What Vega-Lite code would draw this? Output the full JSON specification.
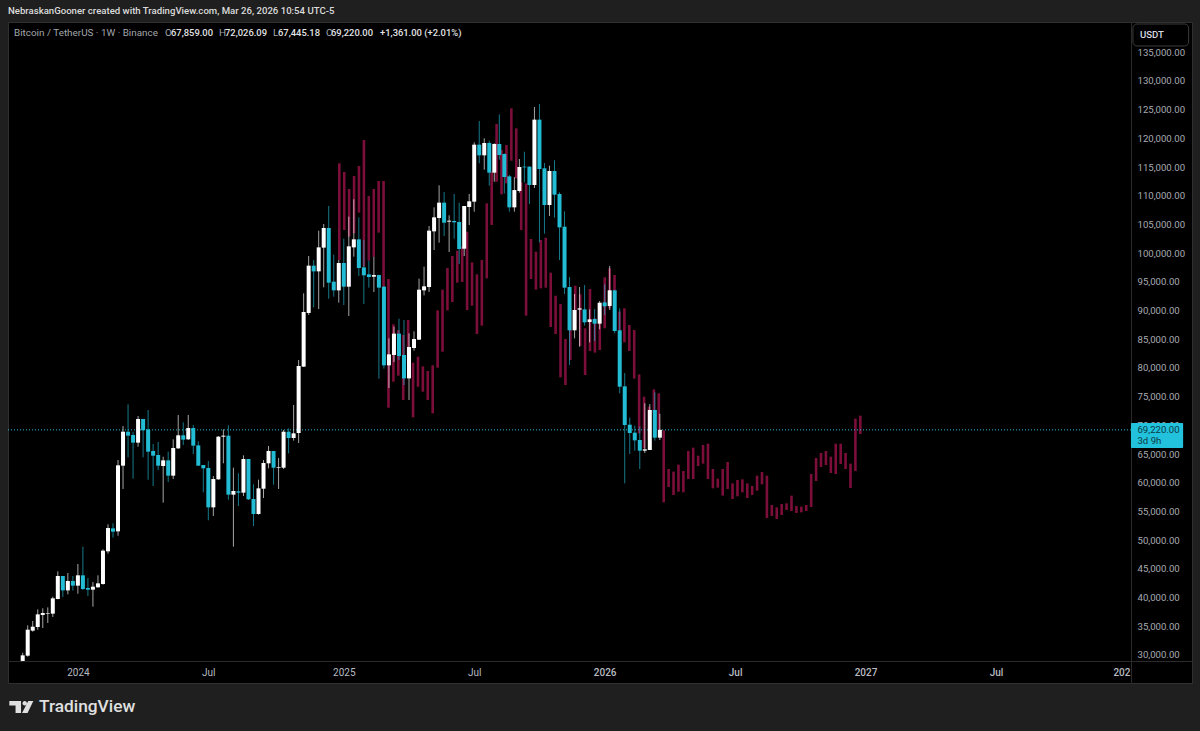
{
  "$schema": "https://vega.github.io/schema/vega-lite/v6.json",
  "description": "Bitcoin / TetherUS weekly candles with a projected bars pattern",
  "title": {"text": "NebraskanGooner created with TradingView.com, Mar 26, 2026 10:54 UTC-5", "anchor": "start", "frame": "group", "font": "Roboto", "fontSize": 9.6, "fontWeight": 500, "color": "#dcdcdc", "offset": 6},
  "autosize": {"type": "none"},
  "width": 1184,
  "height": 661,
  "padding": {"left": 8, "top": 22, "right": 8, "bottom": 48},
  "background": "#1f1f1f",
  "view": {"fill": "#000000", "stroke": "#303030"},
  "config": {"axis": {"labelOverlap": false, "labelSeparation": 0}},
  "datasets": {
    "candles": [
      {"week":0,"open":28960,"high":30400,"low":28960,"close":29940,"dir":"up"},
      {"week":1,"open":29880,"high":35170,"low":29710,"close":34410,"dir":"up"},
      {"week":2,"open":34240,"high":35920,"low":34060,"close":34930,"dir":"up"},
      {"week":3,"open":34880,"high":37950,"low":34410,"close":37080,"dir":"up"},
      {"week":4,"open":36970,"high":38130,"low":34700,"close":37310,"dir":"up"},
      {"week":5,"open":37200,"high":38300,"low":35570,"close":37310,"dir":"up"},
      {"week":6,"open":37200,"high":40160,"low":36620,"close":39870,"dir":"up"},
      {"week":7,"open":39750,"high":44570,"low":39700,"close":43760,"dir":"up"},
      {"week":8,"open":43760,"high":43760,"low":40100,"close":41260,"dir":"down"},
      {"week":9,"open":41260,"high":44280,"low":40570,"close":42890,"dir":"up"},
      {"week":10,"open":42890,"high":43760,"low":41210,"close":42080,"dir":"down"},
      {"week":11,"open":42080,"high":45850,"low":40680,"close":43880,"dir":"up"},
      {"week":12,"open":43880,"high":48870,"low":41320,"close":41500,"dir":"down"},
      {"week":13,"open":41670,"high":43410,"low":40280,"close":41380,"dir":"down"},
      {"week":14,"open":41380,"high":42710,"low":38420,"close":41900,"dir":"up"},
      {"week":15,"open":41790,"high":43880,"low":41730,"close":42480,"dir":"up"},
      {"week":16,"open":42370,"high":48410,"low":42250,"close":48170,"dir":"up"},
      {"week":17,"open":48060,"high":52760,"low":47650,"close":52120,"dir":"up"},
      {"week":18,"open":52060,"high":52940,"low":50440,"close":51480,"dir":"down"},
      {"week":19,"open":51540,"high":63970,"low":50790,"close":63040,"dir":"up"},
      {"week":20,"open":62980,"high":69890,"low":58920,"close":68900,"dir":"up"},
      {"week":21,"open":68900,"high":73670,"low":64430,"close":68210,"dir":"down"},
      {"week":22,"open":68320,"high":68900,"low":60720,"close":66990,"dir":"down"},
      {"week":23,"open":66990,"high":71630,"low":66290,"close":71110,"dir":"up"},
      {"week":24,"open":71110,"high":71110,"low":64430,"close":69140,"dir":"down"},
      {"week":25,"open":69310,"high":72680,"low":60540,"close":65420,"dir":"down"},
      {"week":26,"open":65540,"high":66760,"low":59440,"close":64720,"dir":"down"},
      {"week":27,"open":64840,"high":67100,"low":62230,"close":62980,"dir":"down"},
      {"week":28,"open":62920,"high":64550,"low":56540,"close":63910,"dir":"up"},
      {"week":29,"open":63910,"high":65420,"low":60140,"close":61240,"dir":"down"},
      {"week":30,"open":61240,"high":67570,"low":60660,"close":66060,"dir":"up"},
      {"week":31,"open":66000,"high":71810,"low":65890,"close":68270,"dir":"up"},
      {"week":32,"open":68270,"high":70530,"low":66580,"close":67510,"dir":"down"},
      {"week":33,"open":67570,"high":71810,"low":67450,"close":69540,"dir":"up"},
      {"week":34,"open":69540,"high":70070,"low":65010,"close":66470,"dir":"down"},
      {"week":35,"open":66520,"high":67220,"low":62920,"close":62980,"dir":"down"},
      {"week":36,"open":63100,"high":63100,"low":58340,"close":62520,"dir":"down"},
      {"week":37,"open":62580,"high":63790,"low":53460,"close":55720,"dir":"down"},
      {"week":38,"open":55720,"high":61180,"low":54210,"close":60660,"dir":"up"},
      {"week":39,"open":60600,"high":68150,"low":60540,"close":68030,"dir":"up"},
      {"week":40,"open":68030,"high":69310,"low":63390,"close":68210,"dir":"up"},
      {"week":41,"open":68210,"high":70010,"low":57060,"close":57930,"dir":"down"},
      {"week":42,"open":57930,"high":62630,"low":48870,"close":58570,"dir":"up"},
      {"week":43,"open":58510,"high":61650,"low":55960,"close":58280,"dir":"down"},
      {"week":44,"open":58280,"high":64780,"low":57700,"close":64140,"dir":"up"},
      {"week":45,"open":64140,"high":64140,"low":57000,"close":57120,"dir":"down"},
      {"week":46,"open":57170,"high":59730,"low":52470,"close":54560,"dir":"down"},
      {"week":47,"open":54560,"high":60540,"low":54450,"close":59030,"dir":"up"},
      {"week":48,"open":58970,"high":63970,"low":57350,"close":63450,"dir":"up"},
      {"week":49,"open":63390,"high":66410,"low":62520,"close":65540,"dir":"up"},
      {"week":50,"open":65540,"high":65540,"low":59670,"close":62630,"dir":"down"},
      {"week":51,"open":62630,"high":64320,"low":58920,"close":62750,"dir":"up"},
      {"week":52,"open":62630,"high":69200,"low":62400,"close":68900,"dir":"up"},
      {"week":53,"open":68900,"high":69490,"low":65130,"close":67800,"dir":"down"},
      {"week":54,"open":67800,"high":73550,"low":67340,"close":68610,"dir":"up"},
      {"week":55,"open":68670,"high":81390,"low":66930,"close":80340,"dir":"up"},
      {"week":56,"open":80230,"high":93000,"low":80170,"close":89750,"dir":"up"},
      {"week":57,"open":89580,"high":99500,"low":89230,"close":97820,"dir":"up"},
      {"week":58,"open":97820,"high":98810,"low":90560,"close":96830,"dir":"down"},
      {"week":59,"open":96830,"high":103920,"low":90270,"close":101010,"dir":"up"},
      {"week":60,"open":100960,"high":105080,"low":94050,"close":104380,"dir":"up"},
      {"week":61,"open":104380,"high":108220,"low":92070,"close":94860,"dir":"down"},
      {"week":62,"open":95030,"high":99740,"low":92420,"close":93520,"dir":"down"},
      {"week":63,"open":93520,"high":98810,"low":91380,"close":98290,"dir":"up"},
      {"week":64,"open":98290,"high":102520,"low":90970,"close":94160,"dir":"down"},
      {"week":65,"open":94160,"high":106360,"low":89050,"close":101190,"dir":"up"},
      {"week":66,"open":101010,"high":109380,"low":99390,"close":102410,"dir":"up"},
      {"week":67,"open":102410,"high":106240,"low":96020,"close":97410,"dir":"down"},
      {"week":68,"open":97530,"high":102290,"low":91140,"close":96140,"dir":"down"},
      {"week":69,"open":96310,"high":98690,"low":93990,"close":95850,"dir":"down"},
      {"week":70,"open":95900,"high":99390,"low":93230,"close":96190,"dir":"up"},
      {"week":71,"open":96190,"high":96250,"low":78140,"close":93990,"dir":"down"},
      {"week":72,"open":94160,"high":94280,"low":79880,"close":80460,"dir":"down"},
      {"week":73,"open":80460,"high":85160,"low":76510,"close":82370,"dir":"up"},
      {"week":74,"open":82260,"high":87190,"low":81040,"close":85980,"dir":"up"},
      {"week":75,"open":85980,"high":88590,"low":81390,"close":82080,"dir":"down"},
      {"week":76,"open":82260,"high":88360,"low":77030,"close":78190,"dir":"down"},
      {"week":77,"open":78190,"high":86030,"low":74420,"close":83650,"dir":"up"},
      {"week":78,"open":83480,"high":86380,"low":83010,"close":85050,"dir":"up"},
      {"week":79,"open":84930,"high":95560,"low":84870,"close":93640,"dir":"up"},
      {"week":80,"open":93520,"high":97650,"low":92650,"close":94220,"dir":"up"},
      {"week":81,"open":94100,"high":104730,"low":93230,"close":103920,"dir":"up"},
      {"week":82,"open":103800,"high":107980,"low":100550,"close":106240,"dir":"up"},
      {"week":83,"open":106130,"high":111820,"low":101830,"close":108800,"dir":"up"},
      {"week":84,"open":108800,"high":110650,"low":102990,"close":105310,"dir":"down"},
      {"week":85,"open":105490,"high":106590,"low":100200,"close":105660,"dir":"up"},
      {"week":86,"open":105600,"high":110310,"low":102520,"close":105370,"dir":"down"},
      {"week":87,"open":105430,"high":108800,"low":98110,"close":100720,"dir":"down"},
      {"week":88,"open":100780,"high":108220,"low":99500,"close":108220,"dir":"up"},
      {"week":89,"open":108040,"high":110310,"low":104910,"close":109030,"dir":"up"},
      {"week":90,"open":108970,"high":119310,"low":107230,"close":118900,"dir":"up"},
      {"week":91,"open":118900,"high":123020,"low":115650,"close":117040,"dir":"down"},
      {"week":92,"open":117040,"high":120000,"low":114540,"close":119190,"dir":"up"},
      {"week":93,"open":119190,"high":119600,"low":111760,"close":114020,"dir":"down"},
      {"week":94,"open":114020,"high":119130,"low":112450,"close":119020,"dir":"up"},
      {"week":95,"open":119020,"high":124180,"low":116290,"close":117100,"dir":"down"},
      {"week":96,"open":117270,"high":117390,"low":110420,"close":113270,"dir":"down"},
      {"week":97,"open":113380,"high":113620,"low":107230,"close":107980,"dir":"down"},
      {"week":98,"open":107980,"high":113270,"low":107230,"close":110990,"dir":"up"},
      {"week":99,"open":110830,"high":116400,"low":110540,"close":115010,"dir":"up"},
      {"week":100,"open":115070,"high":117680,"low":112340,"close":114950,"dir":"down"},
      {"week":101,"open":115070,"high":115130,"low":108560,"close":111870,"dir":"down"},
      {"week":102,"open":111870,"high":125460,"low":111350,"close":123260,"dir":"up"},
      {"week":103,"open":123260,"high":125980,"low":101890,"close":114660,"dir":"down"},
      {"week":104,"open":114780,"high":115710,"low":103400,"close":108390,"dir":"down"},
      {"week":105,"open":108390,"high":115240,"low":106470,"close":114310,"dir":"up"},
      {"week":106,"open":114310,"high":116170,"low":106180,"close":110190,"dir":"down"},
      {"week":107,"open":110310,"high":110600,"low":98810,"close":104500,"dir":"down"},
      {"week":108,"open":104610,"high":107290,"low":92890,"close":93990,"dir":"down"},
      {"week":109,"open":94100,"high":95850,"low":80520,"close":86560,"dir":"down"},
      {"week":110,"open":86560,"high":92890,"low":85160,"close":90100,"dir":"up"},
      {"week":111,"open":90160,"high":94100,"low":83710,"close":90390,"dir":"up"},
      {"week":112,"open":90210,"high":94450,"low":87370,"close":87950,"dir":"down"},
      {"week":113,"open":88010,"high":90210,"low":84460,"close":88470,"dir":"up"},
      {"week":114,"open":88530,"high":90270,"low":84700,"close":87720,"dir":"down"},
      {"week":115,"open":87720,"high":91670,"low":86730,"close":91370,"dir":"up"},
      {"week":116,"open":91430,"high":94570,"low":89230,"close":90740,"dir":"down"},
      {"week":117,"open":90800,"high":97760,"low":90100,"close":93530,"dir":"up"},
      {"week":118,"open":93530,"high":93530,"low":86030,"close":86440,"dir":"down"},
      {"week":119,"open":86560,"high":90390,"low":75580,"close":76740,"dir":"down"},
      {"week":120,"open":76800,"high":79120,"low":59900,"close":70060,"dir":"down"},
      {"week":121,"open":70120,"high":71340,"low":65010,"close":68670,"dir":"down"},
      {"week":122,"open":68730,"high":69950,"low":65590,"close":67390,"dir":"down"},
      {"week":123,"open":67450,"high":69830,"low":62400,"close":65590,"dir":"down"},
      {"week":124,"open":65590,"high":73840,"low":65190,"close":65830,"dir":"up"},
      {"week":125,"open":65710,"high":73720,"low":65710,"close":72680,"dir":"up"},
      {"week":126,"open":72680,"high":75760,"low":67340,"close":67859,"dir":"down"},
      {"week":127,"open":67859,"high":72026.09,"low":67445.18,"close":69220,"dir":"up"}
    ],
    "pattern": [
      {"week":63.11,"high":115650,"low":98810},{"week":64.09,"high":114140,"low":104030},{"week":65.07,"high":111180,"low":102870},
      {"week":66.05,"high":113440,"low":103450},{"week":67.03,"high":115180,"low":107050},{"week":68.01,"high":119710,"low":97650},
      {"week":68.99,"high":109960,"low":98690},{"week":69.97,"high":111180,"low":99390},{"week":70.95,"high":112570,"low":103570},
      {"week":71.93,"high":112570,"low":94160},{"week":72.91,"high":95500,"low":73080},{"week":73.89,"high":87600,"low":77610},
      {"week":74.87,"high":86610,"low":78660},{"week":75.85,"high":85740,"low":74420},{"week":76.83,"high":88360,"low":80810},
      {"week":77.81,"high":80920,"low":71400},{"week":78.79,"high":81970,"low":76740},{"week":79.76,"high":80280,"low":75870},
      {"week":80.74,"high":79470,"low":74420},{"week":81.72,"high":80460,"low":72100},{"week":82.70,"high":90040,"low":80050},
      {"week":83.68,"high":93640,"low":82840},{"week":84.66,"high":97410,"low":90040},{"week":85.64,"high":99500,"low":91490},
      {"week":86.62,"high":100430,"low":94860},{"week":87.60,"high":101130,"low":94980},{"week":88.58,"high":103740,"low":90100},
      {"week":89.56,"high":98400,"low":90850},{"week":90.54,"high":96310,"low":85920},{"week":91.52,"high":98810,"low":87370},
      {"week":92.50,"high":108680,"low":95610},{"week":93.48,"high":114200,"low":104910},{"week":94.46,"high":122500,"low":112450},
      {"week":95.44,"high":117970,"low":110250},{"week":96.42,"high":118840,"low":112160},{"week":97.40,"high":125230,"low":116110},
      {"week":98.38,"high":121750,"low":113030},{"week":99.36,"high":112340,"low":104030},{"week":100.34,"high":112160,"low":89110},
      {"week":101.32,"high":102470,"low":95500},{"week":102.30,"high":100260,"low":93640},{"week":103.28,"high":102290,"low":93870},
      {"week":104.26,"high":102700,"low":93990},{"week":105.24,"high":96600,"low":87140},{"week":106.22,"high":92590,"low":85920},
      {"week":107.20,"high":91140,"low":78370},{"week":108.18,"high":85040,"low":77030},{"week":109.16,"high":90390,"low":81390},
      {"week":110.14,"high":94340,"low":86900},{"week":111.12,"high":92830,"low":83830},{"week":112.10,"high":86910,"low":78780},
      {"week":113.07,"high":93760,"low":82960},{"week":114.05,"high":88650,"low":82670},{"week":115.03,"high":90390,"low":83130},
      {"week":116.01,"high":95790,"low":86910},{"week":116.99,"high":97360,"low":90390},{"week":117.97,"high":96200,"low":86610},
      {"week":118.95,"high":89810,"low":82550},{"week":119.93,"high":90390,"low":84470},{"week":120.91,"high":87490,"low":82960},
      {"week":121.89,"high":86610,"low":78140},{"week":122.87,"high":78890,"low":68610},{"week":123.85,"high":75000,"low":66000},
      {"week":124.83,"high":73260,"low":67450},{"week":125.81,"high":76280,"low":72100},{"week":126.79,"high":75580,"low":69190},
      {"week":127.77,"high":69140,"low":56590},{"week":128.75,"high":62400,"low":59270},{"week":129.73,"high":61940,"low":57870},
      {"week":130.71,"high":63160,"low":58450},{"week":131.69,"high":62050,"low":58340},{"week":132.67,"high":65540,"low":60660},
      {"week":133.65,"high":66120,"low":60660},{"week":134.63,"high":64720,"low":62920},{"week":135.61,"high":66580,"low":63330},
      {"week":136.59,"high":66810,"low":60660},{"week":137.57,"high":62400,"low":59030},{"week":138.55,"high":60720,"low":59150},
      {"week":139.53,"high":62400,"low":57760},{"week":140.51,"high":63620,"low":58920},{"week":141.49,"high":59900,"low":57170},
      {"week":142.47,"high":60480,"low":57640},{"week":143.45,"high":60600,"low":58340},{"week":144.43,"high":59900,"low":57350},
      {"week":145.40,"high":59440,"low":57870},{"week":146.38,"high":61240,"low":58630},{"week":147.36,"high":61880,"low":59730},
      {"week":148.34,"high":61240,"low":53860},{"week":149.32,"high":56130,"low":54210},{"week":150.30,"high":55720,"low":53690},
      {"week":151.28,"high":56300,"low":54390},{"week":152.26,"high":56420,"low":55260},{"week":153.24,"high":57760,"low":55080},
      {"week":154.22,"high":55960,"low":54740},{"week":155.20,"high":55840,"low":54850},{"week":156.18,"high":56130,"low":55080},
      {"week":157.16,"high":61530,"low":55780},{"week":158.14,"high":64320,"low":60310},{"week":159.12,"high":65190,"low":62750},
      {"week":160.10,"high":65540,"low":63100},{"week":161.08,"high":64550,"low":61700},{"week":162.06,"high":66810,"low":61530},
      {"week":163.04,"high":66810,"low":63270},{"week":164.02,"high":65190,"low":62400},{"week":165.00,"high":63330,"low":59090},
      {"week":165.98,"high":71170,"low":62050},{"week":166.96,"high":71690,"low":68500}
    ],
    "legendLabels": [
      {"week":-1.73,"price":138350,"text":"Bitcoin / TetherUS · 1W · Binance"},
      {"week":28.36,"price":138350,"text":"O"},
      {"week":39.13,"price":138350,"text":"H"},
      {"week":49.89,"price":138350,"text":"L"},
      {"week":60.45,"price":138350,"text":"C"}
    ],
    "legendValues": [
      {"week":29.56,"price":138350,"text":"67,859.00"},
      {"week":40.32,"price":138350,"text":"72,026.09"},
      {"week":50.89,"price":138350,"text":"67,445.18"},
      {"week":61.45,"price":138350,"text":"69,220.00"},
      {"week":71.22,"price":138350,"text":"+1,361.00 (+2.01%)"}
    ]
  },
  "layer": [
    {
      "data": {"name": "pattern"},
      "mark": {"type": "rule", "strokeWidth": 2.6, "color": "#7c0e3a"},
      "encoding": {
        "x": {
          "field": "week", "type": "quantitative",
          "scale": {"domain": [-2.93, 233.07], "nice": false, "zero": false},
          "title": null,
          "axis": {
            "orient": "bottom", "offset": -22, "values": [11, 37, 64, 90, 116, 142, 168, 194, 219], "tickCount": 30,
            "labelExpr": "{'11':'2024','37':'Jul','64':'2025','90':'Jul','116':'2026','142':'Jul','168':'2027','194':'Jul','219':'202'}[datum.value]",
            "grid": false, "ticks": false, "domainColor": "#2a2a2a", "labelColor": "#b8bbc2", "labelFont": "Roboto", "labelFontSize": 10,
            "labelFontWeight": {"condition": {"test": "length(datum.label) >= 3 && datum.label != 'Jul'", "value": 500}, "value": "normal"},
            "labelPadding": 6, "labelFlush": false
          }
        },
        "y": {
          "field": "high", "type": "quantitative",
          "scale": {"domain": [25122, 140269], "nice": false, "zero": false},
          "title": null,
          "axis": {
            "orient": "right", "offset": -61, "values": [30000,35000,40000,45000,50000,55000,60000,65000,70000,75000,80000,85000,90000,95000,100000,105000,110000,115000,120000,125000,130000,135000], "tickCount": 30,
            "format": ",.2f", "grid": false, "ticks": false, "domainColor": "#2a2a2a", "labelColor": "#a8abb2", "labelFont": "Roboto", "labelFontSize": 9.6,
            "labelPadding": 6, "labelFlush": false
          }
        },
        "y2": {"field": "low"}
      }
    },
    {
      "data": {"values": [{"start": -2.93, "end": 220.9, "price": 69220}]},
      "mark": {"type": "rule", "strokeWidth": 1, "color": "#22bcd4", "strokeDash": [1, 2]},
      "encoding": {
        "x": {"field": "start", "type": "quantitative", "scale": {"domain": [-2.93, 233.07], "nice": false, "zero": false}, "title": null},
        "x2": {"field": "end"},
        "y": {"field": "price", "type": "quantitative", "scale": {"domain": [25122, 140269], "nice": false, "zero": false}, "title": null}
      }
    },
    {
      "data": {"name": "candles"},
      "mark": {"type": "rule", "strokeWidth": 1, "opacity": 0.65},
      "encoding": {
        "x": {"field": "week", "type": "quantitative", "scale": {"domain": [-2.93, 233.07], "nice": false, "zero": false}, "title": null},
        "y": {"field": "high", "type": "quantitative", "scale": {"domain": [25122, 140269], "nice": false, "zero": false}, "title": null},
        "y2": {"field": "low"},
        "color": {"field": "dir", "type": "nominal", "scale": {"domain": ["up", "down"], "range": ["#ffffff", "#22bcd4"]}, "legend": null}
      }
    },
    {
      "data": {"name": "candles"},
      "mark": {"type": "rule", "strokeWidth": 4},
      "encoding": {
        "x": {"field": "week", "type": "quantitative", "scale": {"domain": [-2.93, 233.07], "nice": false, "zero": false}, "title": null},
        "y": {"field": "open", "type": "quantitative", "scale": {"domain": [25122, 140269], "nice": false, "zero": false}, "title": null},
        "y2": {"field": "close"},
        "color": {"field": "dir", "type": "nominal", "scale": {"domain": ["up", "down"], "range": ["#ffffff", "#22bcd4"]}, "legend": null}
      }
    },
    {
      "data": {"name": "legendLabels"},
      "mark": {"type": "text", "align": "left", "baseline": "middle", "font": "Roboto", "fontSize": 9.9, "color": "#a3a6ad"},
      "encoding": {
        "x": {"field": "week", "type": "quantitative", "scale": {"domain": [-2.93, 233.07], "nice": false, "zero": false}, "title": null},
        "y": {"field": "price", "type": "quantitative", "scale": {"domain": [25122, 140269], "nice": false, "zero": false}, "title": null},
        "text": {"field": "text"}
      }
    },
    {
      "data": {"name": "legendValues"},
      "mark": {"type": "text", "align": "left", "baseline": "middle", "font": "Roboto", "fontSize": 9.4, "fontWeight": 500, "color": "#e2e3e6"},
      "encoding": {
        "x": {"field": "week", "type": "quantitative", "scale": {"domain": [-2.93, 233.07], "nice": false, "zero": false}, "title": null},
        "y": {"field": "price", "type": "quantitative", "scale": {"domain": [25122, 140269], "nice": false, "zero": false}, "title": null},
        "text": {"field": "text"}
      }
    },
    {
      "data": {"values": [{"from": 221.3, "to": 232.4, "top": 139920, "bottom": 136090}]},
      "mark": {"type": "rect", "fill": "#000000", "stroke": "#3c3c3c", "cornerRadius": 4},
      "encoding": {
        "x": {"field": "from", "type": "quantitative", "scale": {"domain": [-2.93, 233.07], "nice": false, "zero": false}, "title": null},
        "x2": {"field": "to"},
        "y": {"field": "top", "type": "quantitative", "scale": {"domain": [25122, 140269], "nice": false, "zero": false}, "title": null},
        "y2": {"field": "bottom"}
      }
    },
    {
      "data": {"values": [{"week": 222.7, "price": 138000, "text": "USDT"}]},
      "mark": {"type": "text", "align": "left", "baseline": "middle", "font": "Roboto", "fontSize": 9.6, "fontWeight": 500, "color": "#d8dae0"},
      "encoding": {
        "x": {"field": "week", "type": "quantitative", "scale": {"domain": [-2.93, 233.07], "nice": false, "zero": false}, "title": null},
        "y": {"field": "price", "type": "quantitative", "scale": {"domain": [25122, 140269], "nice": false, "zero": false}, "title": null},
        "text": {"field": "text"}
      }
    },
    {
      "data": {"values": [{"from": 220.9, "to": 231.3, "top": 70414, "bottom": 66059}]},
      "mark": {"type": "rect", "fill": "#22c1dc", "cornerRadius": 1},
      "encoding": {
        "x": {"field": "from", "type": "quantitative", "scale": {"domain": [-2.93, 233.07], "nice": false, "zero": false}, "title": null},
        "x2": {"field": "to"},
        "y": {"field": "top", "type": "quantitative", "scale": {"domain": [25122, 140269], "nice": false, "zero": false}, "title": null},
        "y2": {"field": "bottom"}
      }
    },
    {
      "data": {"values": [{"week": 222.2, "price": 69190, "text": "69,220.00"}, {"week": 222.2, "price": 67280, "text": "3d 9h"}]},
      "mark": {"type": "text", "align": "left", "baseline": "middle", "font": "Roboto", "fontSize": 9.6, "color": "#0b3a44"},
      "encoding": {
        "x": {"field": "week", "type": "quantitative", "scale": {"domain": [-2.93, 233.07], "nice": false, "zero": false}, "title": null},
        "y": {"field": "price", "type": "quantitative", "scale": {"domain": [25122, 140269], "nice": false, "zero": false}, "title": null},
        "text": {"field": "text"}
      }
    },
    {
      "data": {"values": [{"week": -0.27, "price": 20940}]},
      "mark": {"type": "point", "filled": true, "size": 576, "opacity": 1, "color": "#e0e0e0", "strokeWidth": 0, "shape": "M-1,-0.5 H-0.025 V0.5 H-0.483 V-0.125 H-1 Z M0.093,-0.317 A0.19,0.19 0 1 0 0.473,-0.317 A0.19,0.19 0 1 0 0.093,-0.317 Z M0.575,-0.5 L1,-0.5 L0.517,0.5 L0.058,0.5 Z"},
      "encoding": {
        "x": {"field": "week", "type": "quantitative", "scale": {"domain": [-2.93, 233.07], "nice": false, "zero": false}, "title": null},
        "y": {"field": "price", "type": "quantitative", "scale": {"domain": [25122, 140269], "nice": false, "zero": false}, "title": null}
      }
    },
    {
      "data": {"values": [{"week": 3.25, "price": 20940, "text": "TradingView"}]},
      "mark": {"type": "text", "align": "left", "baseline": "middle", "font": "Roboto", "fontSize": 17.3, "fontWeight": 500, "color": "#e0e0e0"},
      "encoding": {
        "x": {"field": "week", "type": "quantitative", "scale": {"domain": [-2.93, 233.07], "nice": false, "zero": false}, "title": null},
        "y": {"field": "price", "type": "quantitative", "scale": {"domain": [25122, 140269], "nice": false, "zero": false}, "title": null},
        "text": {"field": "text"}
      }
    }
  ]
}
